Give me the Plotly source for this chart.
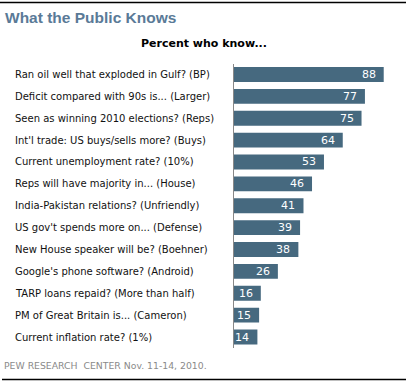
import plotly.graph_objects as go

W, H = 409, 382

questions = [
    "Ran oil well that exploded in Gulf? (BP)",
    "Deficit compared with 90s is... (Larger)",
    "Seen as winning 2010 elections? (Reps)",
    "Int'l trade: US buys/sells more? (Buys)",
    "Current unemployment rate? (10%)",
    "Reps will have majority in... (House)",
    "India-Pakistan relations? (Unfriendly)",
    "US gov't spends more on... (Defense)",
    "New House speaker will be? (Boehner)",
    "Google's phone software? (Android)",
    "TARP loans repaid? (More than half)",
    "PM of Great Britain is... (Cameron)",
    "Current inflation rate? (1%)",
]
percent_know = [88, 77, 75, 64, 53, 46, 41, 39, 38, 26, 16, 15, 14]

title_text = "What the Public Knows"
subtitle_text = "Percent who know..."
source_text = "PEW RESEARCH  CENTER Nov. 11-14, 2010."

BAR = "#46697f"
FONT = "DejaVu Sans, Verdana, Tahoma"

def px(x):
    return x / W

def py(y):
    return 1 - y / H

fig = go.Figure()
fig.add_trace(go.Bar(
    x=percent_know,
    y=list(range(len(questions))),
    orientation="h",
    marker=dict(color=BAR, line=dict(width=0)),
    width=0.68,
    hoverinfo="skip",
))

annotations = []
for i, (q, v) in enumerate(zip(questions, percent_know)):
    annotations.append(dict(
        x=px(13), xref="paper", y=i, yref="y",
        text=q, showarrow=False, xanchor="left", yanchor="middle",
        font=dict(family=FONT, size=10, color="#111111"),
    ))
    annotations.append(dict(
        x=v, xref="x", y=i, yref="y",
        text=str(v), showarrow=False, xanchor="right", yanchor="middle",
        xshift=-6,
        font=dict(family=FONT, size=11, color="#ffffff"),
    ))

annotations += [
    dict(x=px(3), y=py(17), xref="paper", yref="paper", text="<b>" + title_text + "</b>",
         showarrow=False, xanchor="left", yanchor="middle",
         font=dict(family="Liberation Sans, Arial", size=15.5, color="#5a7a97")),
    dict(x=px(204), y=py(43), xref="paper", yref="paper", text="<b>" + subtitle_text + "</b>",
         showarrow=False, xanchor="center", yanchor="middle",
         font=dict(family=FONT, size=11, color="#000000")),
    dict(x=px(2), y=py(365), xref="paper", yref="paper", text=source_text,
         showarrow=False, xanchor="left", yanchor="middle",
         font=dict(family=FONT, size=9.3, color="#8a8a8a")),
]

shapes = [
    dict(type="line", xref="paper", yref="paper", x0=0, x1=px(406), y0=py(2.5), y1=py(2.5),
         line=dict(color="#000000", width=1.5)),
    dict(type="line", xref="paper", yref="paper", x0=px(2), x1=px(406), y0=py(379.5), y1=py(379.5),
         line=dict(color="#000000", width=1.5)),
]

fig.update_layout(
    width=W, height=H,
    margin=dict(l=0, r=0, t=0, b=0, pad=0),
    paper_bgcolor="#ffffff", plot_bgcolor="#ffffff",
    showlegend=False,
    xaxis=dict(domain=[px(233.5), px(406)], range=[0, (406 - 233.5) / 1.707], visible=False,
               showgrid=False, zeroline=False, fixedrange=True),
    yaxis=dict(domain=[py(348), py(63.5)], range=[12.5, -0.5], showgrid=False,
               zeroline=False, showticklabels=False, ticks="",
               showline=True, linecolor="#888888", linewidth=1, fixedrange=True),
    annotations=annotations,
    shapes=shapes,
)

fig.write_html(
    "out.html", config={"displayModeBar": False},
    post_script=("document.body.style.margin='0';document.body.style.padding='0';"
                 "document.body.style.overflow='hidden';"
                 "document.documentElement.style.overflow='hidden';"),
)
